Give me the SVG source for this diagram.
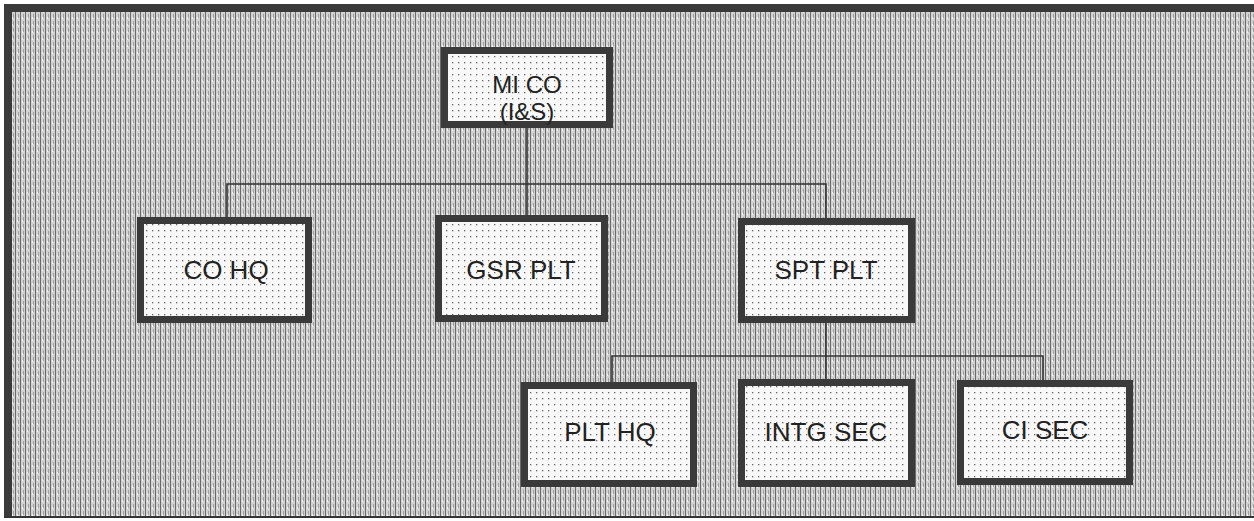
<svg xmlns="http://www.w3.org/2000/svg" width="1254" height="521" viewBox="0 0 1254 521">
  <defs>
    <pattern id="bg" width="5" height="7" patternUnits="userSpaceOnUse">
      <rect width="5" height="7" fill="#d2d2d2"/>
      <rect x="0" y="0" width="1" height="7" fill="#6a6a6a"/>
      <rect x="3" y="0" width="1" height="4" fill="#a0a0a0"/>
      <rect x="2" y="3" width="1" height="2" fill="#f4f4f4"/>
    </pattern>
    <pattern id="dots" width="6" height="6" patternUnits="userSpaceOnUse">
      <rect width="6" height="6" fill="#f8f8f8"/>
      <rect x="2" y="2" width="1.3" height="1.3" fill="#666"/>
    </pattern>
  </defs>
  <style>
    .box { fill: url(#dots); stroke: #3a3a3a; stroke-width: 7; }
    .lbl { font-family: "Liberation Sans", Arial, sans-serif; font-size: 26px; fill: #222; text-anchor: middle; dominant-baseline: central; }
    .lbl2 { font-family: "Liberation Sans", Arial, sans-serif; font-size: 24px; fill: #222; text-anchor: middle; }
    .conn { fill: none; stroke: #333; stroke-width: 1.6; }
  </style>
  <rect x="0" y="0" width="1254" height="521" fill="#ffffff"/>
  <rect x="4" y="4" width="1250" height="513" fill="url(#bg)"/>
  <rect x="4" y="4" width="1250" height="8" fill="#3a3a3a"/>
  <rect x="4" y="4" width="8" height="513" fill="#3a3a3a"/>
  <rect x="4" y="516" width="1250" height="2" fill="#333"/>

  <g id="connectors">
    <path class="conn" d="M527 128 V184 M227 217 V184 H826 V218 M527 184 V215"/>
    <path class="conn" d="M826 323 V356 M612 382 V356 H1043 V380 M826 356 V379"/>
  </g>

  <g id="mi-co">
    <rect class="box" x="444.5" y="50.5" width="165" height="74"/>
    <text class="lbl2" x="527" y="93">MI CO</text>
    <text class="lbl2" x="527" y="120">(I&amp;S)</text>
  </g>
  <g id="co-hq">
    <rect class="box" x="140.5" y="220.5" width="168" height="99"/>
    <text class="lbl" x="226" y="270">CO HQ</text>
  </g>
  <g id="gsr-plt">
    <rect class="box" x="438.5" y="218.5" width="166" height="100"/>
    <text class="lbl" x="521" y="270">GSR PLT</text>
  </g>
  <g id="spt-plt">
    <rect class="box" x="741.5" y="221.5" width="170" height="98"/>
    <text class="lbl" x="826" y="270">SPT PLT</text>
  </g>
  <g id="plt-hq">
    <rect class="box" x="524.5" y="385.5" width="169" height="98"/>
    <text class="lbl" x="610" y="432">PLT HQ</text>
  </g>
  <g id="intg-sec">
    <rect class="box" x="741.5" y="382.5" width="170" height="101"/>
    <text class="lbl" x="826" y="432">INTG SEC</text>
  </g>
  <g id="ci-sec">
    <rect class="box" x="960.5" y="383.5" width="169" height="98"/>
    <text class="lbl" x="1045" y="430">CI SEC</text>
  </g>
</svg>
